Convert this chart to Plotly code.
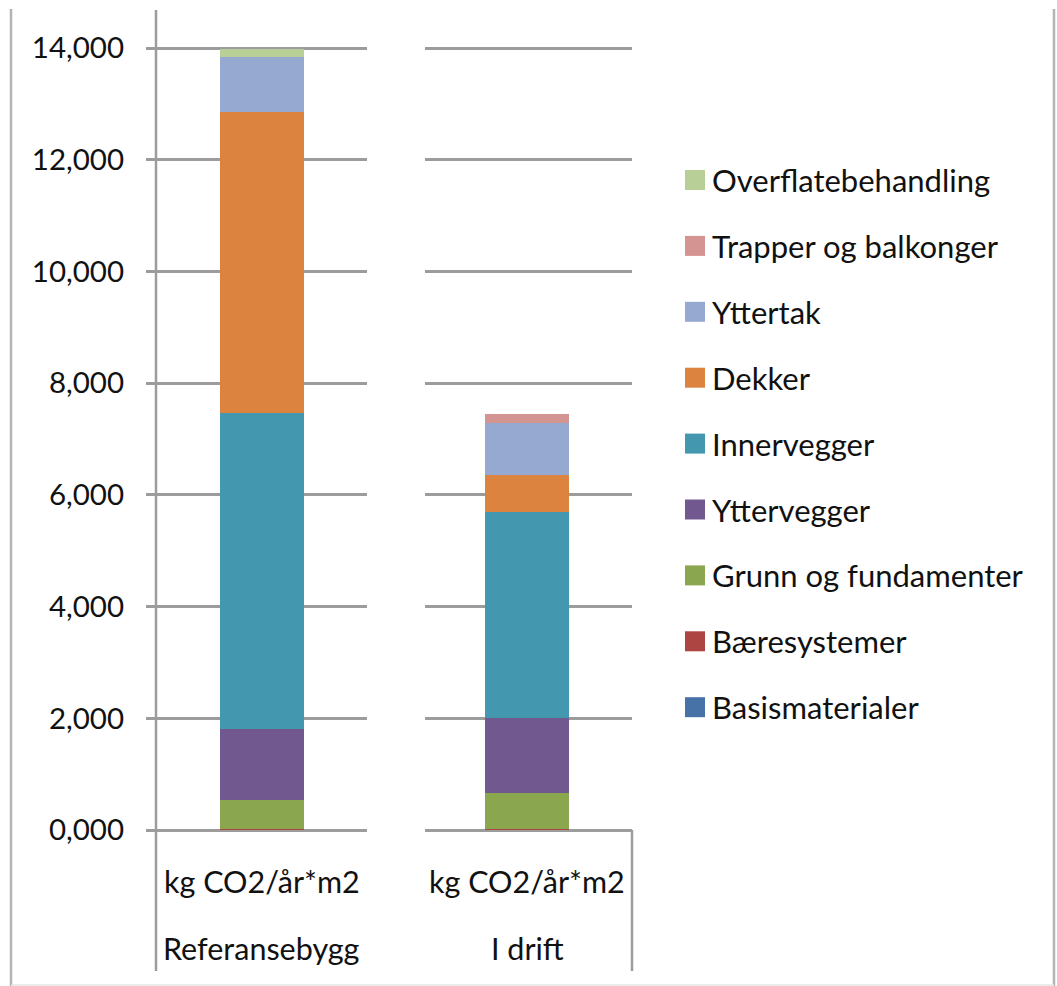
import plotly.graph_objects as go

# Building categories (two-level axis labels)
unit_label = "kg CO2/år*m2"
buildings = ["Referansebygg", "I drift"]

# Building-part series, stacked from the bottom up
series_names = [
    "Basismaterialer",
    "Bæresystemer",
    "Grunn og fundamenter",
    "Yttervegger",
    "Innervegger",
    "Dekker",
    "Yttertak",
    "Trapper og balkonger",
    "Overflatebehandling",
]
basismaterialer = [0.00, 0.00]
baeresystemer = [0.02, 0.01]
grunn_og_fundamenter = [0.52, 0.66]
yttervegger = [1.26, 1.33]
innervegger = [5.67, 3.70]
dekker = [5.39, 0.65]
yttertak = [0.98, 0.94]
trapper_og_balkonger = [0.00, 0.16]
overflatebehandling = [0.15, 0.00]

series_values = [
    basismaterialer,
    baeresystemer,
    grunn_og_fundamenter,
    yttervegger,
    innervegger,
    dekker,
    yttertak,
    trapper_og_balkonger,
    overflatebehandling,
]
series_colors = [
    "#4672A8",
    "#AD4542",
    "#8AA64E",
    "#71588F",
    "#4398B0",
    "#DC843F",
    "#95A9D1",
    "#D49491",
    "#B8CF98",
]

y_tick_values = [0, 2, 4, 6, 8, 10, 12, 14]

# Canvas geometry (pixels)
W, H = 1057, 986
PL, PR, PT, PB = 157, 632, 10, 830
FONT = "Lato"
TXT = "#111111"
GRID = "#9c9c9c"


def px_x(px):
    return (px - PL) / (PR - PL)


def px_y(py):
    return (PB - py) / (PB - PT)


x_pos = [0, 1]
fig = go.Figure()
for name, vals, col in zip(series_names, series_values, series_colors):
    fig.add_trace(go.Bar(
        x=x_pos, y=vals, name=name, width=0.32,
        marker=dict(color=col, line=dict(width=0)),
        showlegend=False,
    ))

shapes = []
annotations = []

# Blank strip separating the two category panels
shapes.append(dict(type="rect", xref="paper", yref="paper",
                   x0=px_x(367), x1=px_x(425), y0=px_y(986), y1=px_y(0),
                   fillcolor="white", line=dict(width=0), layer="above"))

# Vertical axis line and category dividers
shapes.append(dict(type="line", xref="paper", yref="paper",
                   x0=px_x(156), x1=px_x(156), y0=px_y(10), y1=px_y(971),
                   line=dict(color=GRID, width=2.5), layer="above"))
shapes.append(dict(type="line", xref="paper", yref="paper",
                   x0=px_x(632), x1=px_x(632), y0=px_y(830), y1=px_y(971),
                   line=dict(color=GRID, width=2.5), layer="above"))

# Outer frame
shapes.append(dict(type="line", xref="paper", yref="paper",
                   x0=px_x(11), x1=px_x(11), y0=px_y(9), y1=px_y(986),
                   line=dict(color="#b4b4b4", width=2.5), layer="above"))
shapes.append(dict(type="line", xref="paper", yref="paper",
                   x0=px_x(1054), x1=px_x(1054), y0=px_y(9), y1=px_y(986),
                   line=dict(color="#b4b4b4", width=2.5), layer="above"))
shapes.append(dict(type="line", xref="paper", yref="paper",
                   x0=px_x(11), x1=px_x(1054), y0=px_y(985), y1=px_y(985),
                   line=dict(color="#e4e4e4", width=1.5), layer="above"))

# Two-level category labels
for xi, b in zip(x_pos, buildings):
    annotations.append(dict(x=xi, xref="x", y=px_y(881), yref="paper",
                            text=unit_label, showarrow=False,
                            xanchor="center", yanchor="middle",
                            font=dict(family=FONT, size=30.5, color=TXT)))
    annotations.append(dict(x=xi, xref="x", y=px_y(948), yref="paper",
                            text=b, showarrow=False,
                            xanchor="center", yanchor="middle",
                            font=dict(family=FONT, size=30.5, color=TXT)))

# Legend drawn as swatches + labels, top row is the top of the stack
row_top, row_step = 180, 65.9
for i, (name, col) in enumerate(zip(reversed(series_names), reversed(series_colors))):
    cy = row_top + i * row_step
    shapes.append(dict(type="rect", xref="paper", yref="paper",
                       x0=px_x(685), x1=px_x(705), y0=px_y(cy + 10), y1=px_y(cy - 10),
                       fillcolor=col, line=dict(width=0), layer="above"))
    annotations.append(dict(x=px_x(710), xref="paper", y=px_y(cy), yref="paper",
                            text=name, showarrow=False,
                            xanchor="left", yanchor="middle",
                            font=dict(family=FONT, size=31, color=TXT)))

fig.update_layout(
    barmode="stack",
    width=W, height=H,
    margin=dict(l=PL, r=W - PR, t=PT, b=H - PB, pad=0),
    paper_bgcolor="white", plot_bgcolor="white",
    separators=",.",
    shapes=shapes,
    annotations=annotations,
    font=dict(family=FONT, size=29, color=TXT),
)
fig.update_xaxes(
    range=[-0.396, 1.396], showticklabels=False, showgrid=False,
    zeroline=False, showline=False, ticks="",
)
fig.update_yaxes(
    range=[0, 14 * (PB - PT) / (PB - 48)],
    tickvals=y_tick_values, tickformat=".3f",
    showgrid=True, gridcolor=GRID, gridwidth=2.5,
    zeroline=True, zerolinecolor=GRID, zerolinewidth=2.5,
    showline=False, ticks="outside", ticklen=10, tickwidth=2.5, tickcolor=GRID,
    ticklabelstandoff=16,
    tickfont=dict(family=FONT, size=29.5, color=TXT),
)

fig.write_html("out.html")
